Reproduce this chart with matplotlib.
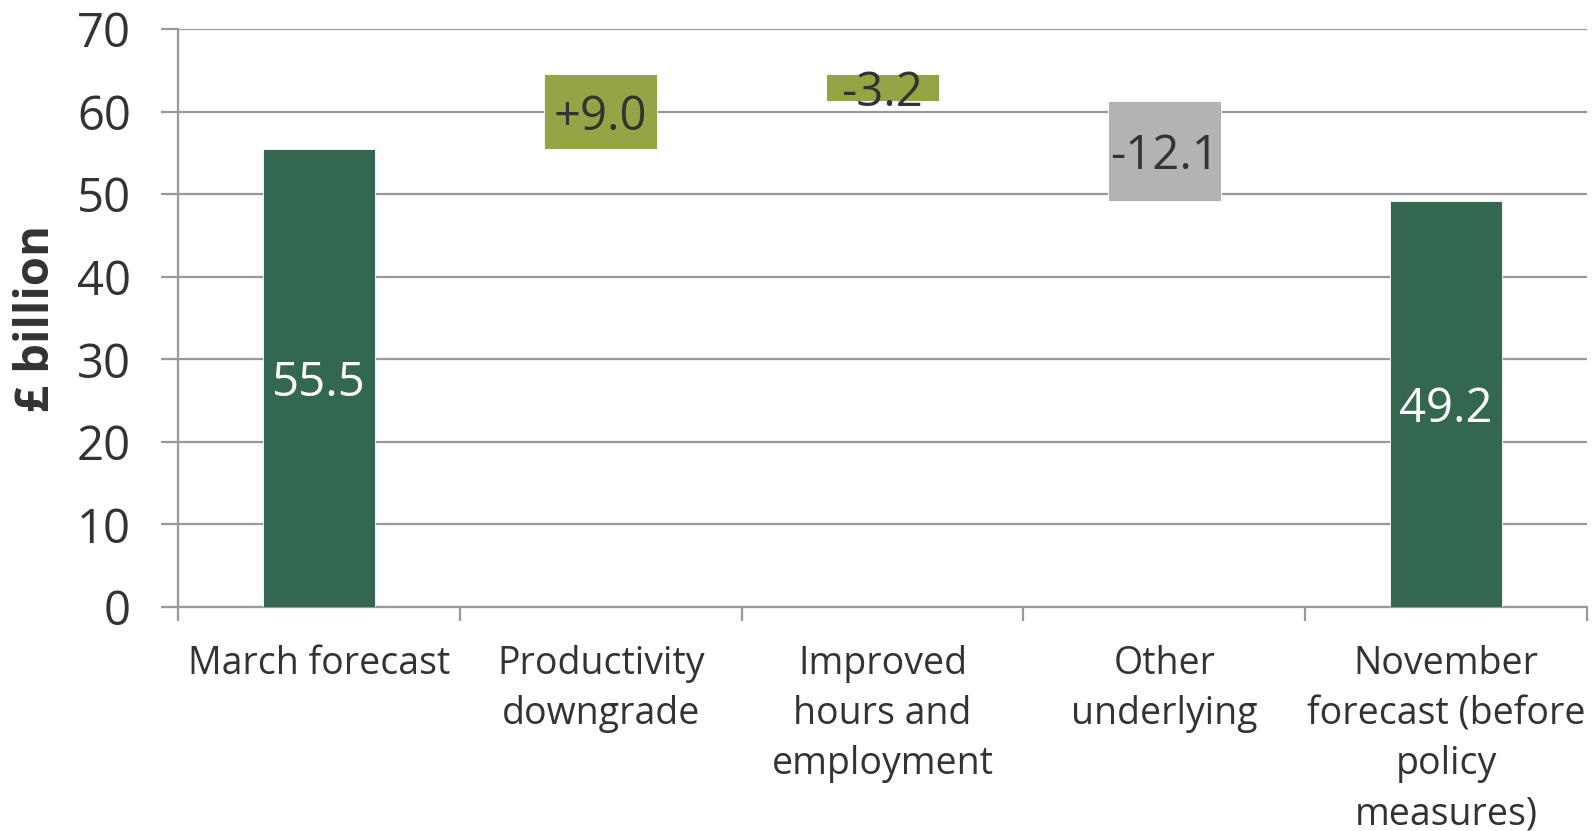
import matplotlib
matplotlib.use("Agg")
import matplotlib.pyplot as plt
import numpy as np

categories = ["March forecast", "Productivity\ndowngrade", "Improved\nhours and\nemployment",
              "Other\nunderlying", "November\nforecast (before\npolicy\nmeasures)"]
changes = [55.5, 9.0, -3.2, -12.1, 49.2]
kinds = ["total", "delta", "delta", "delta", "total"]
labels = ["55.5", "+9.0", "-3.2", "-12.1", "49.2"]
yticks = [0, 10, 20, 30, 40, 50, 60, 70]

c_total = "#336750"
c_up = "#94a545"
c_other = "#b3b3b3"
c_grid = "#999999"
c_text = "#333333"

plt.rcParams['font.family'] = ['Open Sans', 'DejaVu Sans']

fig = plt.figure(figsize=(15.95, 8.31), dpi=100)
ax = fig.add_axes([0.1116, 0.2696, 0.8834, 0.6954])

x = np.arange(len(categories))
bottoms, heights, colors = [], [], []
running = 0.0
for i, (v, k) in enumerate(zip(changes, kinds)):
    if k == "total":
        bottoms.append(0.0)
        heights.append(v)
        running = v
        colors.append(c_total)
    else:
        lo = min(running, running + v)
        bottoms.append(lo)
        heights.append(abs(v))
        running = running + v
        colors.append(c_other if i == 3 else c_up)

ax.bar(x, heights, bottom=bottoms, width=0.4, color=colors, zorder=3,
       edgecolor="white", linewidth=0.6)

for i in range(len(x)):
    cy = bottoms[i] + heights[i] / 2
    col = "white" if kinds[i] == "total" else c_text
    ax.text(x[i], cy, labels[i], ha="center", va="center_baseline", fontsize=34,
            color=col, zorder=4)

ax.set_xlim(-0.5, len(x) - 0.5)
ax.set_ylim(0, 70)
ax.set_yticks(yticks)
ax.set_yticklabels([str(t) for t in yticks], fontsize=34, color=c_text)
ax.yaxis.grid(True, color=c_grid, linewidth=1.6, zorder=0)
ax.tick_params(axis="y", length=12, width=1.6, color=c_grid, pad=22)

ax.set_xticks(np.arange(-0.5, len(x), 1.0))
ax.set_xticklabels([])
ax.tick_params(axis="x", length=10, width=1.6, color=c_grid, direction="out")
for i, c in enumerate(categories):
    ax.text(x[i], -4.6, c, ha="center", va="top", fontsize=27, color=c_text,
            linespacing=1.42)

for s in ["top", "right"]:
    ax.spines[s].set_visible(False)
for s in ["left", "bottom"]:
    ax.spines[s].set_color(c_grid)
    ax.spines[s].set_linewidth(1.6)

ax.set_ylabel("£ billion", fontsize=34, fontweight="bold", color=c_text, labelpad=12)

fig.savefig("out.png", dpi=100)
